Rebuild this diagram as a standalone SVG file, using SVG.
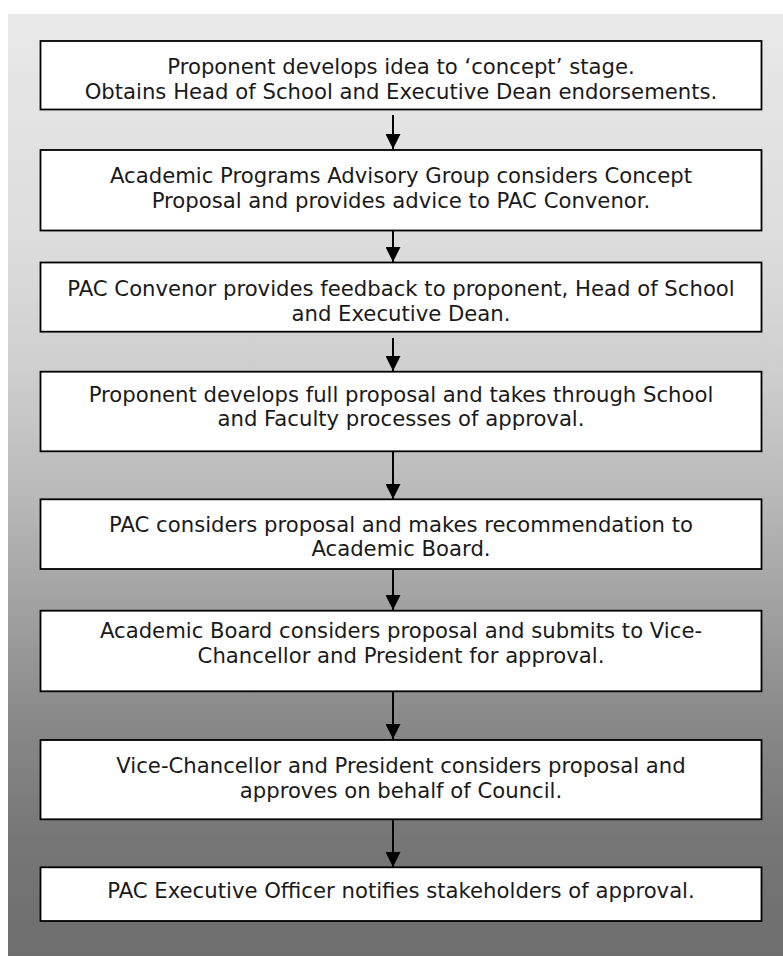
<svg xmlns="http://www.w3.org/2000/svg" width="783" height="956" viewBox="0 0 783 956">
<style>
.box{fill:#ffffff;stroke:#000000;stroke-width:1.8}
.t{font-family:"DejaVu Sans","Verdana",sans-serif;font-size:21.2px;fill:#1a1a1a;text-anchor:middle}
.c{stroke:#000000;stroke-width:2;fill:none;marker-end:url(#ah)}
</style>
<defs>
<linearGradient id="bg" gradientUnits="userSpaceOnUse" x1="0" y1="14" x2="0" y2="956">
<stop offset="0" stop-color="#e9e9e9"/>
<stop offset="0.25" stop-color="#dcdcdc"/>
<stop offset="0.366" stop-color="#d0d0d0"/>
<stop offset="0.495" stop-color="#bcbcbc"/>
<stop offset="0.611" stop-color="#a5a5a5"/>
<stop offset="0.744" stop-color="#8a8a8a"/>
<stop offset="0.877" stop-color="#767676"/>
<stop offset="1" stop-color="#6e6e6e"/>
</linearGradient>
<marker id="ah" viewBox="0 0 10 10" refX="10" refY="5" markerUnits="userSpaceOnUse" markerWidth="15" markerHeight="15" orient="auto">
<path d="M0,0 L10,5 L0,10 Z" fill="#000000"/>
</marker>
</defs>
<rect x="8" y="14" width="775" height="942" fill="url(#bg)"/>
<g id="connectors">
<line class="c" x1="393" y1="115" x2="393" y2="149"/>
<line class="c" x1="393" y1="227" x2="393" y2="262"/>
<line class="c" x1="393" y1="338" x2="393" y2="371"/>
<line class="c" x1="393" y1="451" x2="393" y2="499"/>
<line class="c" x1="393" y1="563" x2="393" y2="610"/>
<line class="c" x1="393" y1="691" x2="393" y2="739"/>
<line class="c" x1="393" y1="820" x2="393" y2="867"/>
</g>
<g id="n1">
<rect class="box" x="40.5" y="41" width="721" height="68.5"/>
<text class="t" x="401" y="74">Proponent develops idea to ‘concept’ stage.</text>
<text class="t" x="401" y="99">Obtains Head of School and Executive Dean endorsements.</text>
</g>
<g id="n2">
<rect class="box" x="40.5" y="150" width="721" height="80.5"/>
<text class="t" x="401" y="183">Academic Programs Advisory Group considers Concept</text>
<text class="t" x="401" y="207.5">Proposal and provides advice to PAC Convenor.</text>
</g>
<g id="n3">
<rect class="box" x="40.5" y="262.5" width="721" height="69.2"/>
<text class="t" x="401" y="296">PAC Convenor provides feedback to proponent, Head of School</text>
<text class="t" x="401" y="320.5">and Executive Dean.</text>
</g>
<g id="n4">
<rect class="box" x="40.5" y="371.7" width="721" height="79.6"/>
<text class="t" x="401" y="401.7">Proponent develops full proposal and takes through School</text>
<text class="t" x="401" y="426">and Faculty processes of approval.</text>
</g>
<g id="n5">
<rect class="box" x="40.5" y="499.3" width="721" height="69.7"/>
<text class="t" x="401" y="532">PAC considers proposal and makes recommendation to</text>
<text class="t" x="401" y="556">Academic Board.</text>
</g>
<g id="n6">
<rect class="box" x="40.5" y="610.7" width="721" height="80.6"/>
<text class="t" x="401" y="638.3">Academic Board considers proposal and submits to Vice-</text>
<text class="t" x="401" y="662.7">Chancellor and President for approval.</text>
</g>
<g id="n7">
<rect class="box" x="40.5" y="740" width="721" height="79.3"/>
<text class="t" x="401" y="773">Vice-Chancellor and President considers proposal and</text>
<text class="t" x="401" y="798">approves on behalf of Council.</text>
</g>
<g id="n8">
<rect class="box" x="40.5" y="867.3" width="721" height="53.7"/>
<text class="t" x="401" y="898">PAC Executive Officer notifies stakeholders of approval.</text>
</g>
</svg>
